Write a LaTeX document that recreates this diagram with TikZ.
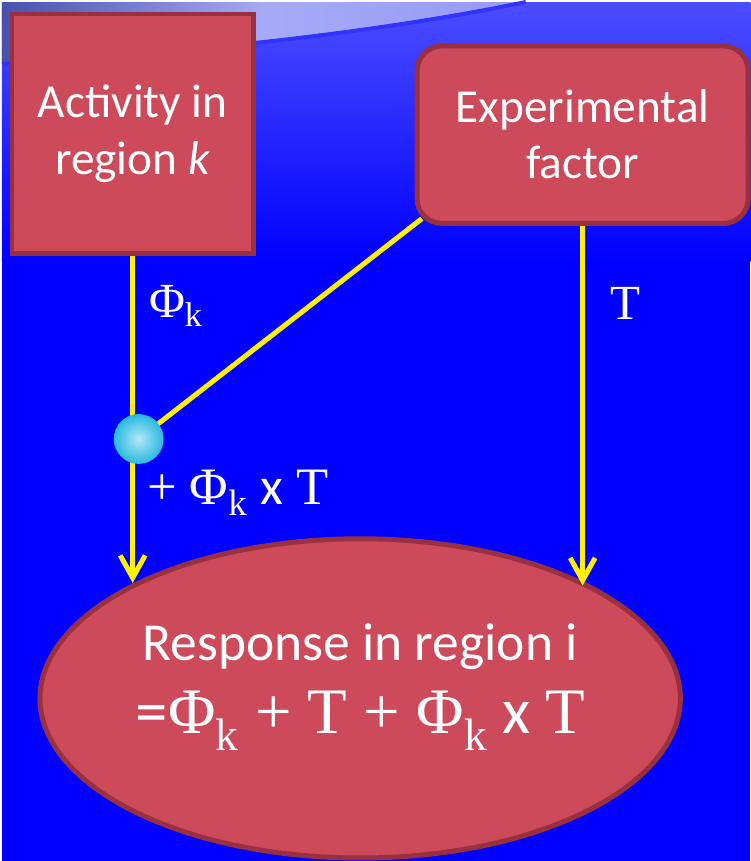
\documentclass[tikz,border=0pt]{standalone}
\usepackage{fontspec}
\setmainfont{Carlito}
\newfontfamily\tnr{Liberation Serif}
\usetikzlibrary{arrows.meta,shapes.geometric}
\definecolor{boxred}{RGB}{205,74,90}
\definecolor{boxedge}{RGB}{152,48,64}
\definecolor{slideblue}{RGB}{0,0,255}
\definecolor{arcgray}{RGB}{70,82,172}
\definecolor{arclight}{RGB}{150,155,245}
\definecolor{ballcyan}{RGB}{40,185,225}
\tikzset{
	block/.style={draw=boxedge, fill=boxred, line width=0.1cm, text=white, align=center, font=\fontsize{27}{32}\selectfont},
	link/.style={yellow, line width=0.1cm},
	flow/.style={link, -{Straight Barb[length=0.45cm,width=0.5cm,line width=0.1cm]}},
	lbl/.style={text=white, inner sep=0pt, font=\tnr\fontsize{28}{32}\selectfont}
}
\begin{document}
\begin{tikzpicture}[x=0.02cm,y=-0.02cm]
		\fill[slideblue] (0,0) rectangle (750,861);
		\shade[top color=slideblue!70!white, bottom color=slideblue] (0,0) rectangle (750,260);
		\shade[left color=arcgray, right color=arclight, middle color=arclight!85!white] (0,0) -- (0,62) .. controls (200,50) and (380,30) .. (525,0) -- cycle;
		\draw[slideblue!80!white, line width=0.08cm] (0,62) .. controls (200,50) and (380,30) .. (525,0);

		\node[block, minimum width=4.84cm, minimum height=4.8cm] (act) at (131,132) {Activity in\\region \textit{k}};
		\node[block, rounded corners=0.5cm, minimum width=6.64cm, minimum height=3.56cm] (exp) at (582,133) {Experimental\\factor};
		\node[block, ellipse, inner sep=0pt, text depth=0.8cm, minimum width=12.84cm, minimum height=6.4cm] (resp) at (359,698) {{\fontsize{30.5}{34}\selectfont Response in region i}\\[0.35cm]{\fontsize{37}{40}\selectfont ={\tnr Φ\textsubscript{k} + T + Φ\textsubscript{k}} x {\tnr T}}};

		\coordinate (hub) at (137,438);
		\draw[flow] (act.south) -- (act.south |- resp.153.6);
		\draw[flow] (exp.south) -- (exp.south |- resp.26.4);
		\draw[link] (hub) -- ([xshift=0.146cm,yshift=0.146cm]exp.south west);
		\node[circle, inner sep=0pt, minimum size=1cm, shading=radial, inner color=ballcyan!35!white, outer color=ballcyan] (sph) at (hub) {};

		\node[lbl, anchor=west] (phi) at (147,305) {Φ\textsubscript{k}};
		\node[lbl] (tee) at (625,302) {T};
		\node[lbl, anchor=west, font=\tnr\fontsize{30}{34}\selectfont] (inter) at (145,492) {+ Φ\textsubscript{k} {\normalfont x} T};
	\end{tikzpicture}
\end{document}
